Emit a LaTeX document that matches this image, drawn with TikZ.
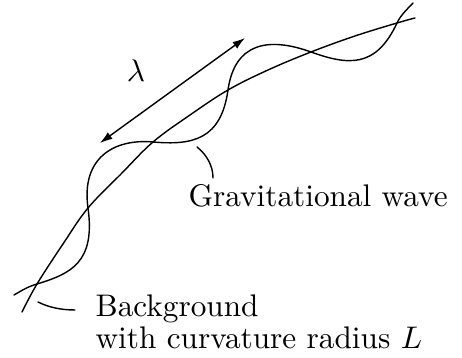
\documentclass[tikz,border=0pt]{standalone}
\usepackage{amsmath}
\usetikzlibrary{arrows.meta,calc}

\begin{document}
\begin{tikzpicture}[
  x=0.32pt, y=-0.32pt,
  curve/.style={line width=0.45pt, line cap=round},
  ar/.style={{Latex[length=4pt,width=2.6pt]}-{Latex[length=4pt,width=2.6pt]}, line width=0.45pt},
  lbl/.style={inner sep=0pt, anchor=base west, align=left,
              font=\fontsize{10}{10.3}\selectfont}
]
\useasboundingbox (0,0) rectangle (462,358);

% background and wave
\draw[curve] plot[smooth, tension=0.6] coordinates {
  (22,312) (37,284) (63,244) (88,208) (122,173) (153,142) (190,115)
  (228,90) (268,70) (311,52) (355,36) (397,23) (415,18)};
\draw[curve] (14,295) .. controls (22.7,290) and (27.4,286.9) .. (37,284)
  .. controls (70.6,273.8) and (95.6,262.5) .. (88,208)
  .. controls (81,158.5) and (113.2,138.5) .. (153,142)
  .. controls (192.8,145.5) and (221,139.5) .. (228,90)
  .. controls (234.7,42.5) and (268.7,36.7) .. (311,52)
  .. controls (348.6,65.6) and (376,68) .. (397,23)
  .. controls (401.2,14) and (409,7.6) .. (413,3);

\node[inner sep=0pt] (lam) at (136,71) {$\lambda$};
\coordinate (a1) at (100,143);
\coordinate (a2) at (245,38);
\draw[ar] (a1) -- (a2);

\node[lbl] (gw) at (188,207) {Gravitational wave};
\node[lbl] (bg) at (95,349) {Background\\with curvature radius $L$};

\coordinate (gwp) at (197,147);
\coordinate (gwq) at (213,178);
\coordinate (bgp) at (38,302);
\coordinate (bgq) at (75,310);
\draw[curve] (gwp) .. controls (207,155) and (213,166) .. (gwq);
\draw[curve] (bgp) .. controls (48,307) and (60,310) .. (bgq);
\end{tikzpicture}
\end{document}
